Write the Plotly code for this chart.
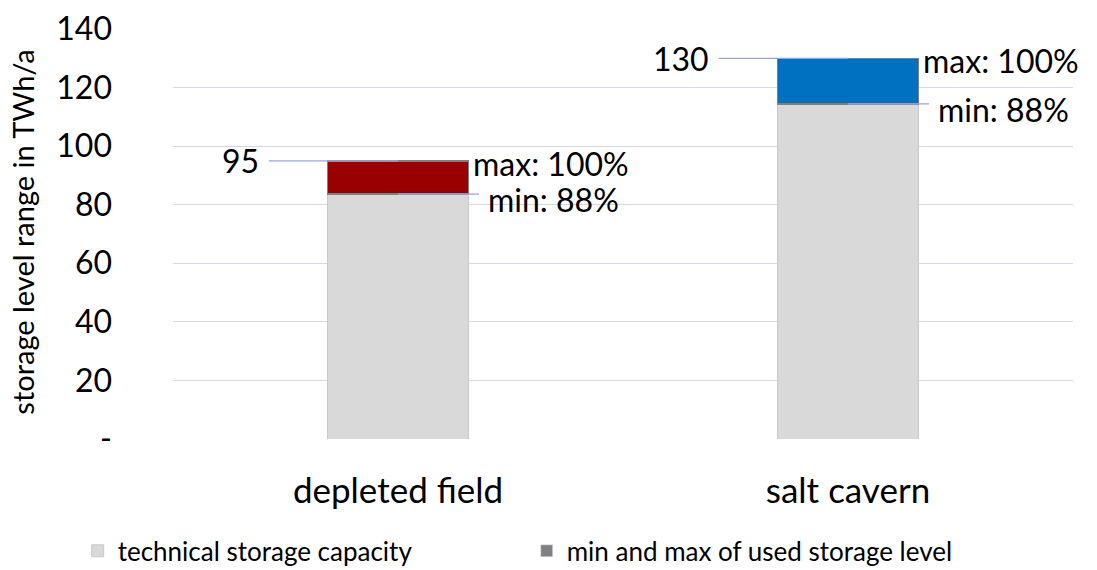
import plotly.graph_objects as go

categories = ["depleted field", "salt cavern"]
max_values = [95, 130]
min_values = [83.6, 114.4]
range_values = [11.4, 15.6]
range_colors = ["#990000", "#0070C0"]
max_labels = ["max: 100%", "max: 100%"]
min_labels = ["min: 88%", "min: 88%"]
y_ticks = [0, 20, 40, 60, 80, 100, 120, 140]
y_tick_labels = ["-", "20", "40", "60", "80", "100", "120", "140"]

FONT = "Lato"
fig = go.Figure()
fig.add_trace(go.Bar(
    x=categories, y=min_values, name="technical storage capacity",
    marker=dict(color="#D9D9D9", line=dict(color="#C9C9C9", width=1)),
))
fig.add_trace(go.Bar(
    x=categories, y=range_values, name="range", showlegend=False,
    marker=dict(color=range_colors, line=dict(color="#808080", width=1.5)),
))
fig.add_trace(go.Bar(
    x=categories, y=[None, None], name="min and max of used storage level",
    marker=dict(color="#808080"),
))

line_col = "#9EA3DC"
for i, cat in enumerate(categories):
    fig.add_shape(type="line", xref="x", yref="y", x0=i - 0.287, x1=i,
                  y0=max_values[i], y1=max_values[i], line=dict(color=line_col, width=1.3))
    fig.add_shape(type="line", xref="x", yref="y", x0=i, x1=i + 0.18,
                  y0=min_values[i], y1=min_values[i], line=dict(color=line_col, width=1.3))
    fig.add_annotation(x=i - 0.305, y=max_values[i], xref="x", yref="y", text=str(max_values[i]),
                       showarrow=False, xanchor="right", yanchor="middle",
                       font=dict(size=32, color="black", family=FONT))
    fig.add_annotation(x=i + 0.163, y=max_values[i] - 0.8, xref="x", yref="y", text=max_labels[i],
                       showarrow=False, xanchor="left", yanchor="middle",
                       font=dict(size=32, color="black", family=FONT))
    fig.add_annotation(x=i + 0.195, y=min_values[i] - 1.8, xref="x", yref="y", text=min_labels[i],
                       showarrow=False, xanchor="left", yanchor="middle",
                       font=dict(size=32, color="black", family=FONT))

fig.add_annotation(x=-0.167, y=0.505, xref="paper", yref="paper", text="storage level range in TWh/a",
                   textangle=-90, showarrow=False, xanchor="center", yanchor="middle",
                   font=dict(size=29, color="black", family=FONT))

fig.update_layout(
    barmode="stack", bargap=0.686,
    width=1089, height=562,
    margin=dict(l=165, r=24, t=21, b=131),
    paper_bgcolor="white", plot_bgcolor="white",
    font=dict(family=FONT, color="black"),
    legend=dict(orientation="h", xref="container", yref="container", x=0.064, y=0.034,
                xanchor="left", yanchor="middle",
                font=dict(size=26, family=FONT, color="black"), entrywidth=404,
                itemwidth=30, traceorder="normal"),
    xaxis=dict(range=[-0.5, 1.5], showgrid=False, showline=False, ticks="", ticklabelstandoff=28,
               automargin=False, tickfont=dict(size=35, family=FONT, color="black")),
    yaxis=dict(range=[0, 140], tickvals=y_ticks, ticktext=y_tick_labels, automargin=False,
               showgrid=True, gridcolor="#D6D6EE", gridwidth=1.3, zeroline=False,
               showline=False, ticks="", ticklabelstandoff=60,
               tickfont=dict(size=32, family=FONT, color="black")),
)
fig.write_html("out.html")
